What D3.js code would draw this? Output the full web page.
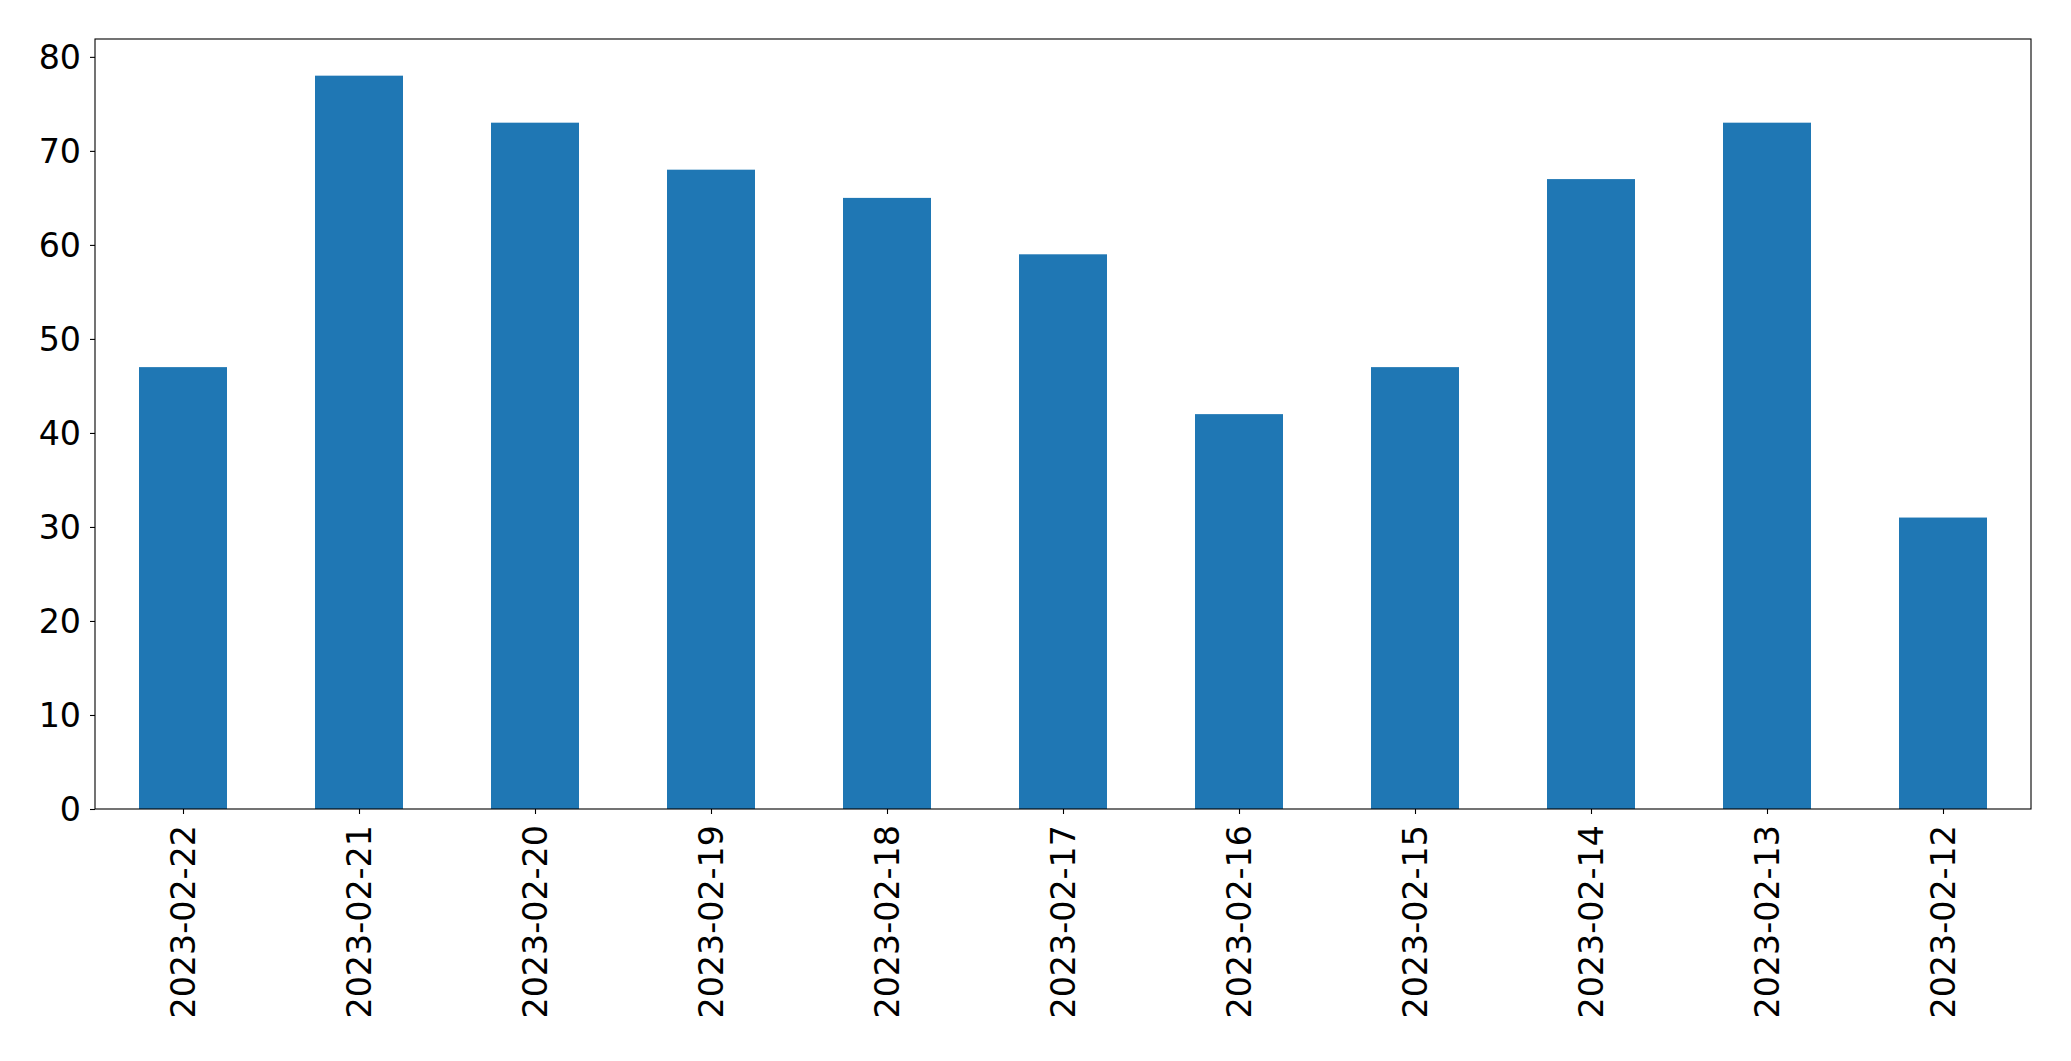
<!DOCTYPE html>
<html>
<head>
<meta charset="utf-8">
<script src="https://cdn.jsdelivr.net/npm/d3@7"></script>
<style>
  html, body { margin: 0; padding: 0; background: #fff; }
  svg { display: block; }
  text { font-family: "DejaVu Sans", sans-serif; fill: #000; }
</style>
</head>
<body>
<script>
const categories = ["2023-02-22","2023-02-21","2023-02-20","2023-02-19","2023-02-18","2023-02-17","2023-02-16","2023-02-15","2023-02-14","2023-02-13","2023-02-12"];
const values = [47, 78, 73, 68, 65, 59, 42, 47, 67, 73, 31];
const yTicks = [0, 10, 20, 30, 40, 50, 60, 70, 80];

const W = 2071, H = 1061;
const m = { left: 95, top: 39, right: 2031, bottom: 809 };
const fontSize = "33.3px";

const svg = d3.select("body").append("svg").attr("width", W).attr("height", H);

const x = d3.scaleLinear().domain([-0.5, categories.length - 0.5]).range([m.left, m.right]);
const yMax = d3.max(values) * 1.05;
const y = d3.scaleLinear().domain([0, yMax]).range([m.bottom, m.top]);

// bars
svg.append("g").selectAll("rect").data(values).join("rect")
  .attr("x", (d, i) => x(i - 0.25))
  .attr("width", (d, i) => x(i + 0.25) - x(i - 0.25))
  .attr("y", d => y(d))
  .attr("height", d => y(0) - y(d))
  .attr("fill", "#1f77b4");

// y axis
const yAxis = d3.axisLeft(y).tickValues(yTicks).tickFormat(d3.format("d")).tickSize(5).tickPadding(9);
const gy = svg.append("g").attr("transform", `translate(${m.left},0)`).call(yAxis);
gy.select(".domain").remove();
gy.selectAll(".tick line").attr("stroke", "#000").attr("stroke-width", 1.1);
gy.selectAll(".tick text").style("font-size", fontSize).attr("dy", "0.35em");

// x axis
const xAxis = d3.axisBottom(x).tickValues(d3.range(categories.length)).tickFormat(i => categories[i]).tickSize(5).tickPadding(0);
const gx = svg.append("g").attr("transform", `translate(0,${m.bottom})`).call(xAxis);
gx.select(".domain").remove();
gx.selectAll(".tick line").attr("stroke", "#000").attr("stroke-width", 1.1);
gx.selectAll(".tick text")
  .style("font-size", fontSize)
  .attr("text-anchor", "end")
  .attr("transform", "rotate(-90)")
  .attr("x", -16)
  .attr("y", 0)
  .attr("dy", "0.35em");

// frame
svg.append("rect")
  .attr("x", m.left).attr("y", m.top)
  .attr("width", m.right - m.left).attr("height", m.bottom - m.top)
  .attr("fill", "none").attr("stroke", "#000").attr("stroke-width", 1.1);
</script>
</body>
</html>
